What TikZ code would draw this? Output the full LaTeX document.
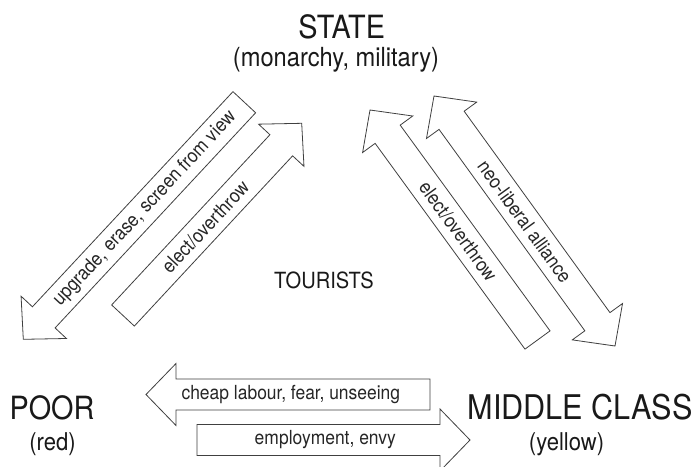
\documentclass[tikz,border=0pt]{standalone}
\usepackage{fontspec}
\setmainfont{TeX Gyre Heros}[FakeStretch=0.9]
\usetikzlibrary{calc}

\tikzset{
  blockarrow/.style={draw=black!75, fill=white, line width=0.8pt, line join=miter},
  lbl/.style={text=black!85, inner sep=0pt, font=\fontsize{19.4}{20}\selectfont},
  big/.style={text=black!90, inner sep=0pt, anchor=base, font=\fontsize{32}{34}\selectfont},
  sub/.style={text=black!90, inner sep=0pt, anchor=base, font=\fontsize{24.5}{26}\selectfont},
}

% single block arrow from tail #1 to tip #2
\newcommand{\sarrow}[2]{%
  \coordinate (#2-hb) at ($(#2)!30pt!(#1)$);
  \draw[blockarrow]
    ($(#1)!15.5pt!90:(#2)$) -- ($(#2-hb)!15.5pt!90:(#2)$) -- ($(#2-hb)!31pt!90:(#2)$)
    -- (#2)
    -- ($(#2-hb)!31pt!-90:(#2)$) -- ($(#2-hb)!15.5pt!-90:(#2)$) -- ($(#1)!15.5pt!-90:(#2)$)
    -- cycle;
}
% double block arrow between tips #1 and #2
\newcommand{\darrow}[2]{%
  \coordinate (#1-hb) at ($(#1)!30pt!(#2)$);
  \coordinate (#2-hb) at ($(#2)!30pt!(#1)$);
  \draw[blockarrow]
    (#1) -- ($(#1-hb)!31pt!90:(#2)$) -- ($(#1-hb)!15.5pt!90:(#2)$)
    -- ($(#2-hb)!15.5pt!90:(#2)$) -- ($(#2-hb)!31pt!90:(#2)$)
    -- (#2)
    -- ($(#2-hb)!31pt!-90:(#2)$) -- ($(#2-hb)!15.5pt!-90:(#2)$)
    -- ($(#1-hb)!15.5pt!-90:(#2)$) -- ($(#1-hb)!31pt!-90:(#2)$)
    -- cycle;
}

\begin{document}
\begin{tikzpicture}[x=1pt, y=-1pt]
\useasboundingbox[fill=white] (0,0) rectangle (696,466);

% arrow end points
\coordinate (Atail) at (244.3,102.2);
\coordinate (Atip)  at (23.3,339.3);
\coordinate (Btail) at (123,315.5);
\coordinate (Btip)  at (301.7,123.3);
\coordinate (Ctail) at (537.5,340);
\coordinate (Ctip)  at (370,110);
\coordinate (Dtop)  at (434,96);
\coordinate (Dbot)  at (615,346);
\coordinate (Etail) at (430,394.5);
\coordinate (Etip)  at (146,394.5);
\coordinate (Ftail) at (197,440);
\coordinate (Ftip)  at (470,440);

\sarrow{Atail}{Atip}
\sarrow{Btail}{Btip}
\sarrow{Ctail}{Ctip}
\darrow{Dtop}{Dbot}
\sarrow{Etail}{Etip}
\sarrow{Ftail}{Ftip}

% arrow labels
\path (Atip) -- (Atail) node[lbl, sloped, pos=0.55] (tA) {upgrade, erase, screen from view};
\path (Btail) -- (Btip) node[lbl, sloped, pos=0.46] (tB) {elect/overthrow};
\path (Ctip) -- (Ctail) node[lbl, sloped, pos=0.527] (tC) {elect/overthrow};
\path (Dtop) -- (Dbot) node[lbl, sloped, pos=0.502] (tD) {neo-liberal alliance};
\path (Etip) -- (Etail) node[lbl, pos=0.51] (tE) {cheap labour, fear, unseeing};
\path (Ftail) -- (Ftip) node[lbl, pos=0.47] (tF) {employment, envy};

% titles
\node[big] (state) at (341.7,38.3) {STATE};
\node[sub, font=\fontsize{26.3}{28}\selectfont] (statesub) at (336,66.5) {(monarchy, military)};
\node[big, font=\fontsize{22.3}{24}\selectfont] (tourists) at (324,288.3) {TOURISTS};
\node[big] (poor) at (52,419) {POOR};
\node[sub] (poorsub) at (52.5,450) {(red)};
\node[big, font=\fontsize{34}{36}\selectfont] (middle) at (580,419) {MIDDLE CLASS};
\node[sub] (middlesub) at (566.5,450) {(yellow)};
\end{tikzpicture}
\end{document}
